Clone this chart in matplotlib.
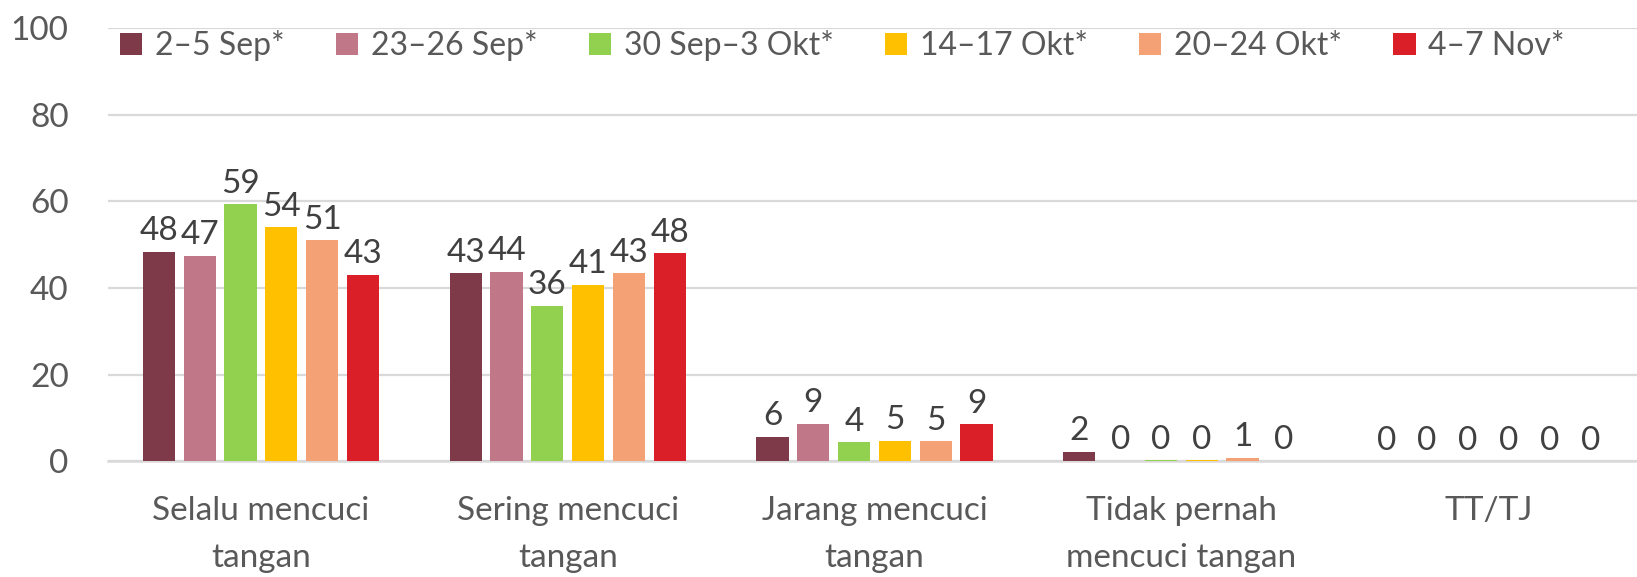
import numpy as np
import matplotlib
matplotlib.use("Agg")
import matplotlib.pyplot as plt

plt.rcParams['font.family'] = ['Lato', 'DejaVu Sans']

categories = ["Selalu mencuci\ntangan", "Sering mencuci\ntangan", "Jarang mencuci\ntangan",
              "Tidak pernah\nmencuci tangan", "TT/TJ"]
periods = ["2–5 Sep*", "23–26 Sep*", "30 Sep–3 Okt*", "14–17 Okt*", "20–24 Okt*", "4–7 Nov*"]

# nilai per periode (persen)
sep_2_5 = [48.4, 43.4, 5.7, 2.3, 0]
sep_23_26 = [47.4, 43.7, 8.7, 0.2, 0]
sep30_okt3 = [59.3, 35.9, 4.4, 0.3, 0]
okt_14_17 = [54.0, 40.7, 4.8, 0.3, 0]
okt_20_24 = [51.0, 43.4, 4.7, 0.8, 0]
nov_4_7 = [43.1, 48.0, 8.6, 0.2, 0]

series = [sep_2_5, sep_23_26, sep30_okt3, okt_14_17, okt_20_24, nov_4_7]
colors = ["#7F3A4A", "#C07888", "#92D050", "#FFC000", "#F4A275", "#DA1F28"]

fig = plt.figure(figsize=(16.37, 5.77), dpi=100)
ax = fig.add_axes([0.0657, 0.2002, 0.9343, 0.7513])

x = np.arange(len(categories))
pitch = 0.133
width = 0.105
for i, (vals, name, c) in enumerate(zip(series, periods, colors)):
    pos = x + (i - 2.5) * pitch
    bars = ax.bar(pos, vals, width=width, color=c, label=name, zorder=3)
    ax.bar_label(bars, labels=[f"{round(v):d}" for v in vals], padding=4,
                 fontsize=24, color="#404040")

ax.set_xlim(-0.5, 4.485)
ax.set_ylim(0, 100)
ax.set_yticks([0, 20, 40, 60, 80, 100])
ax.set_xticks(x)
ax.set_xticklabels(categories, linespacing=1.7)
ax.yaxis.grid(True, color="#D9D9D9", linewidth=1.6, zorder=0)
ax.set_axisbelow(True)
for s in ["top", "right", "left"]:
    ax.spines[s].set_visible(False)
ax.spines["bottom"].set_color("#D9D9D9")
ax.spines["bottom"].set_linewidth(1.8)
ax.tick_params(axis="both", length=0, labelsize=24, labelcolor="#595959")
ax.tick_params(axis="y", pad=28)
ax.tick_params(axis="x", pad=25)

ax.legend(loc="upper left", bbox_to_anchor=(0.008, 0.995), ncol=6, frameon=False,
          fontsize=23, labelcolor="#595959", handlelength=0.7, handleheight=0.7,
          handletextpad=0.4, columnspacing=1.6, borderaxespad=0.0, borderpad=0.0)

fig.savefig("out.png", dpi=100)
